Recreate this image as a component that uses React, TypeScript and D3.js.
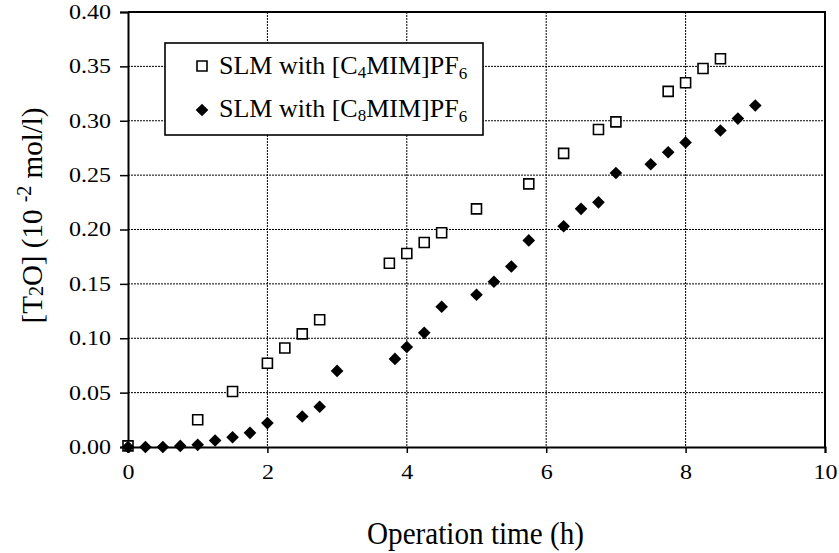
import * as d3 from 'd3';
import { useEffect, useRef } from 'react';

// SLM with [C4MIM]PF6 (open squares)
const c4Time = [0, 1, 1.5, 2, 2.25, 2.5, 2.75, 3.75, 4, 4.25, 4.5, 5, 5.75, 6.25, 6.75, 7, 7.75, 8, 8.25, 8.5];
const c4Conc = [0.001, 0.025, 0.051, 0.077, 0.091, 0.104, 0.117, 0.169, 0.178, 0.188, 0.197, 0.219, 0.242, 0.27, 0.292, 0.299, 0.327, 0.335, 0.348, 0.357];

// SLM with [C8MIM]PF6 (filled diamonds)
const c8Time = [0, 0.25, 0.5, 0.75, 1, 1.25, 1.5, 1.75, 2, 2.5, 2.75, 3, 3.83, 4, 4.25, 4.5, 5, 5.25, 5.5, 5.75, 6.25, 6.5, 6.75, 7, 7.5, 7.75, 8, 8.5, 8.75, 9];
const c8Conc = [0, 0, 0, 0.001, 0.002, 0.006, 0.009, 0.013, 0.022, 0.028, 0.037, 0.07, 0.081, 0.092, 0.105, 0.129, 0.14, 0.152, 0.166, 0.19, 0.203, 0.219, 0.225, 0.252, 0.26, 0.271, 0.28, 0.291, 0.302, 0.314];

const xTicks = [0, 2, 4, 6, 8, 10];
const yTicks = [0, 0.05, 0.1, 0.15, 0.2, 0.25, 0.3, 0.35, 0.4];

const FONT = '"Liberation Serif", "Times New Roman", serif';

export default function App() {
    const svgRef = useRef<SVGSVGElement>(null);

    useEffect(() => {
        if (!svgRef.current) return;
        const width = 839;
        const height = 553;
        const left = 128;
        const right = 825;
        const top = 12;
        const bottom = 447;

        const svg = d3.select(svgRef.current).attr('width', width).attr('height', height);
        svg.selectAll('*').remove();

        const x = d3.scaleLinear().domain([0, 10]).range([left, right]);
        const y = d3.scaleLinear().domain([0, 0.4]).range([bottom, top]);

        svg.append('rect').attr('width', width).attr('height', height).attr('fill', '#fff');

        // dashed grid
        const grid = svg.append('g').attr('stroke', '#000').attr('stroke-width', 1).attr('stroke-dasharray', '2,1');
        grid.selectAll('line.v')
            .data(xTicks.slice(1, -1))
            .join('line')
            .attr('x1', (d) => x(d))
            .attr('x2', (d) => x(d))
            .attr('y1', top)
            .attr('y2', bottom);
        grid.selectAll('line.h')
            .data(yTicks.slice(1, -1))
            .join('line')
            .attr('class', 'h')
            .attr('x1', left)
            .attr('x2', right)
            .attr('y1', (d) => y(d))
            .attr('y2', (d) => y(d));

        // frame (top + right)
        svg.append('path')
            .attr('d', `M${left},${top}H${right}V${bottom}`)
            .attr('fill', 'none')
            .attr('stroke', '#000')
            .attr('stroke-width', 2);

        // axes
        const xAxis = svg
            .append('g')
            .attr('transform', `translate(0,${bottom})`)
            .call(d3.axisBottom(x).tickValues(xTicks).tickSize(6).tickPadding(12).tickFormat(d3.format('d')));
        const yAxis = svg
            .append('g')
            .attr('transform', `translate(${left},0)`)
            .call(d3.axisLeft(y).tickValues(yTicks).tickSize(8).tickPadding(9).tickFormat(d3.format('.2f')));

        [xAxis, yAxis].forEach((ax) => {
            ax.select('.domain').attr('stroke', '#000').attr('stroke-width', 2);
            ax.selectAll('.tick line').attr('stroke', '#000').attr('stroke-width', 1.5);
            ax.selectAll<SVGTextElement, number>('text')
                .attr('fill', '#000')
                .attr('font-family', FONT)
                .attr('font-size', 20)
                .each(function () {
                    const w = this.getComputedTextLength();
                    d3.select(this).attr('textLength', w * 1.2).attr('lengthAdjust', 'spacingAndGlyphs');
                });
        });

        // series
        const c4 = c4Time.map((t, i) => [t, c4Conc[i]] as [number, number]);
        const c8 = c8Time.map((t, i) => [t, c8Conc[i]] as [number, number]);

        const square = d3.symbol().type(d3.symbolSquare).size(100);
        const diamond = d3.symbol().type(d3.symbolSquare).size(80);

        svg.append('g')
            .selectAll('path')
            .data(c4)
            .join('path')
            .attr('d', square())
            .attr('transform', (d) => `translate(${x(d[0])},${y(d[1])})`)
            .attr('fill', '#fff')
            .attr('stroke', '#000')
            .attr('stroke-width', 1.6);

        svg.append('g')
            .selectAll('path')
            .data(c8)
            .join('path')
            .attr('d', diamond())
            .attr('transform', (d) => `translate(${x(d[0])},${y(d[1])}) rotate(45)`)
            .attr('fill', '#000');

        // legend
        const lg = svg.append('g');
        lg.append('rect')
            .attr('x', 165)
            .attr('y', 43)
            .attr('width', 318)
            .attr('height', 92)
            .attr('fill', '#fff')
            .attr('stroke', '#000')
            .attr('stroke-width', 1.6);
        lg.append('path')
            .attr('d', square())
            .attr('transform', 'translate(202,66)')
            .attr('fill', '#fff')
            .attr('stroke', '#000')
            .attr('stroke-width', 1.6);
        lg.append('path').attr('d', diamond()).attr('transform', 'translate(202,110) rotate(45)').attr('fill', '#000');

        const legendLabels: [string, number][] = [
            ['4', 74],
            ['8', 117],
        ];
        legendLabels.forEach(([n, by]) => {
            const t = lg.append('text').attr('x', 219).attr('y', by).attr('font-family', FONT).attr('font-size', 26).attr('fill', '#000');
            t.append('tspan').text('SLM with [C');
            t.append('tspan').attr('font-size', 17).attr('dy', 4).text(n);
            t.append('tspan').attr('dy', -4).text('MIM]PF');
            t.append('tspan').attr('font-size', 17).attr('dy', 5).text('6');
        });

        // axis titles
        svg.append('text')
            .attr('x', 475.5)
            .attr('y', 544)
            .attr('text-anchor', 'middle')
            .attr('font-family', FONT)
            .attr('font-size', 31)
            .attr('textLength', 217)
            .attr('lengthAdjust', 'spacingAndGlyphs')
            .attr('fill', '#000')
            .text('Operation time (h)');

        const yt = svg
            .append('text')
            .attr('transform', 'translate(42,215.5) rotate(-90)')
            .attr('text-anchor', 'middle')
            .attr('font-family', FONT)
            .attr('font-size', 29)
            .attr('fill', '#000');
        yt.append('tspan').text('[T');
        yt.append('tspan').attr('font-size', 20).attr('dy', 1).text('2');
        yt.append('tspan').attr('dy', -1).text('O] (10 ');
        yt.append('tspan').attr('font-size', 20).attr('dy', -11).text('-2');
        yt.append('tspan').attr('dy', 11).text(' mol/l)');
    }, []);

    return <svg ref={svgRef} style={{ position: 'absolute', left: 0, top: 0 }} />;
}
